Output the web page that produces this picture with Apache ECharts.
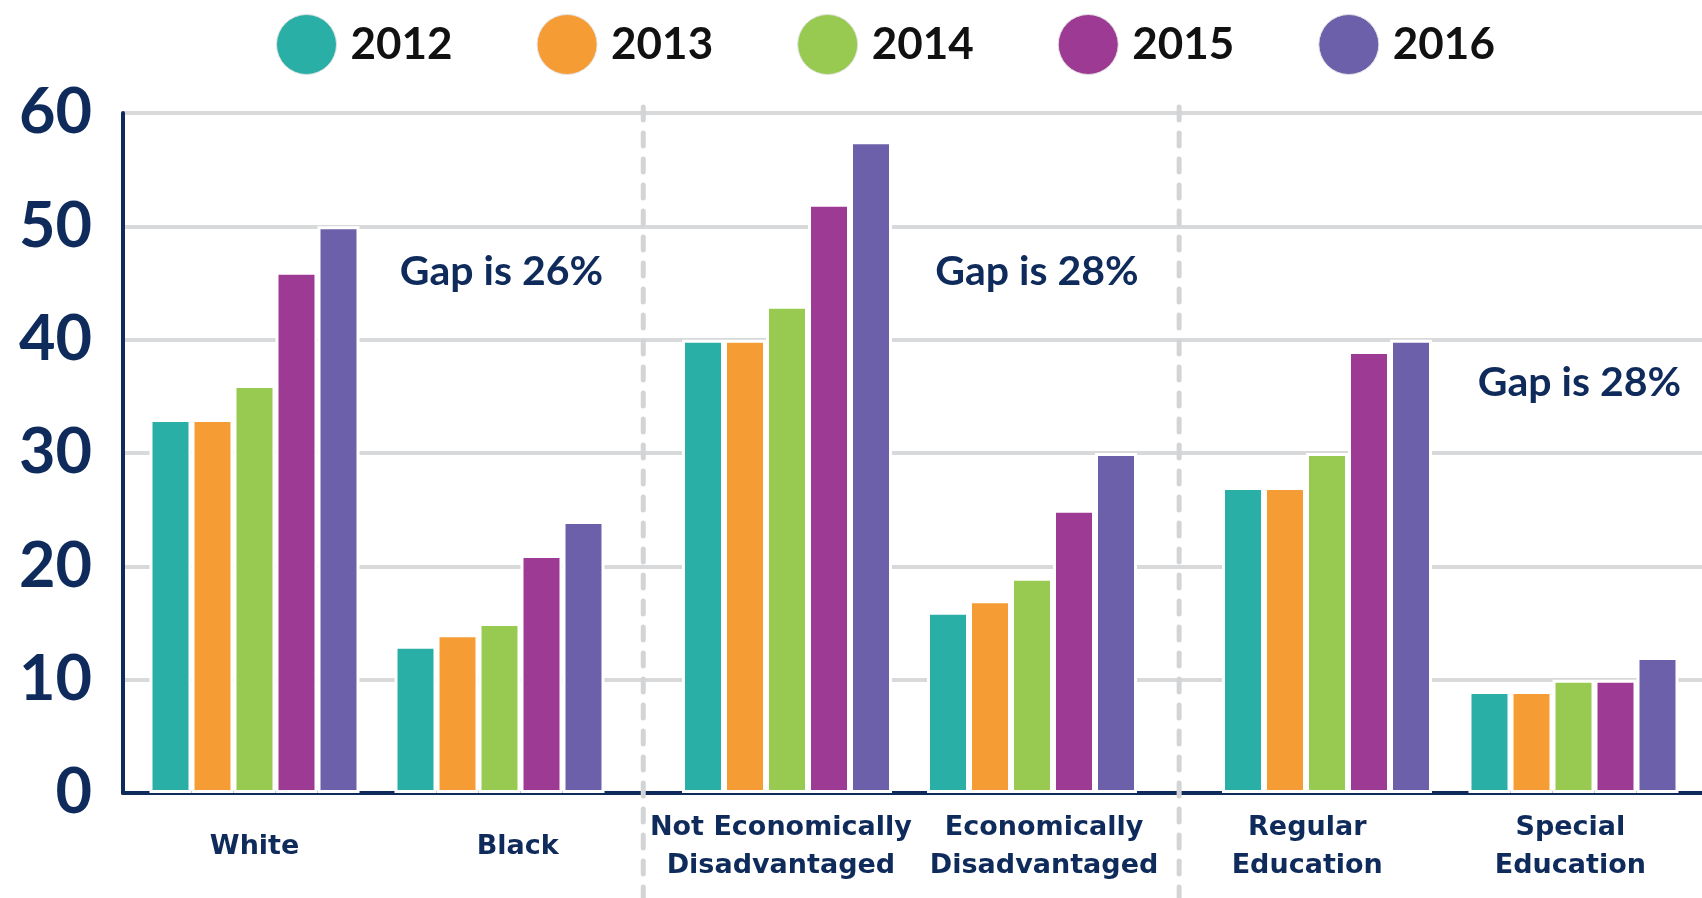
<!DOCTYPE html>
<html>
<head>
<meta charset="utf-8">
<script src="https://cdn.jsdelivr.net/npm/echarts@6/dist/echarts.min.js"></script>
<style>
html,body{margin:0;padding:0;background:#fff;}
#chart{width:1702px;height:898px;}
</style>
</head>
<body>
<div id="chart"></div>
<script>
// ---- data ----
const categories = ['White', 'Black', 'Not Economically\nDisadvantaged', 'Economically\nDisadvantaged', 'Regular\nEducation', 'Special\nEducation'];
const years = ['2012', '2013', '2014', '2015', '2016'];
const v2012 = [33, 13, 40, 16, 27, 9];
const v2013 = [33, 14, 40, 17, 27, 9];
const v2014 = [36, 15, 43, 19, 30, 10];
const v2015 = [46, 21, 52, 25, 39, 10];
const v2016 = [50, 24, 57.5, 30, 40, 12];
const yTicks = [0, 10, 20, 30, 40, 50, 60];
const gapTexts = ['Gap is 26%', 'Gap is 28%', 'Gap is 28%'];
const gapCategory = ['Black', 'Economically\nDisadvantaged', 'Special\nEducation'];
const gapValue = [46, 46, 36.2];

// ---- styling / layout ----
const values = [v2012, v2013, v2014, v2015, v2016];
const colors = ['#2aafa6', '#f69c34', '#98c951', '#9c3a94', '#6c60aa'];
const NAVY = '#0f2b5b';
const TOP = 113, BOTTOM = 105;
const groupBoxes = [
  {left: 132, width: 490},
  {left: 664.5, width: 490},
  {left: 1203.75, width: 493}
];
const gapOffsets = [[2, 0], [5, 0], [6, 0]];

const chart = echarts.init(document.getElementById('chart'));

const grids = [{left: 123, right: 0, top: TOP, bottom: BOTTOM}];
groupBoxes.forEach(b => grids.push({left: b.left, width: b.width, top: TOP, bottom: BOTTOM}));

// background axis carries the evenly spaced category labels
const xAxes = [{
  gridIndex: 0, type: 'category', data: categories,
  axisLine: {show: true, lineStyle: {color: NAVY, width: 4}},
  axisTick: {show: false}, splitLine: {show: false},
  axisLabel: {
    interval: 0, color: NAVY, fontFamily: 'DejaVu Sans', fontWeight: 'bold', fontSize: 27,
    lineHeight: 38, verticalAlign: 'middle', margin: 54
  }
}];
const yAxes = [{
  gridIndex: 0, type: 'value', min: yTicks[0], max: yTicks[yTicks.length - 1], interval: yTicks[1] - yTicks[0],
  axisLine: {show: true, lineStyle: {color: NAVY, width: 4}},
  axisTick: {show: false},
  axisLabel: {color: NAVY, fontFamily: 'Lato', fontWeight: 'bold', fontSize: 63, margin: 31},
  splitLine: {show: true, lineStyle: {color: '#d8d9db', width: 4}}
}];

const series = [];
for (let g = 0; g < 3; g++) {
  const cats = categories.slice(g * 2, g * 2 + 2);
  xAxes.push({
    gridIndex: g + 1, type: 'category', data: cats,
    axisLine: {show: false}, axisTick: {show: false}, splitLine: {show: false},
    axisLabel: {show: false}
  });
  yAxes.push({gridIndex: g + 1, type: 'value', min: 0, max: 60, show: false, splitLine: {show: false}});
  years.forEach((yr, i) => {
    const s = {
      name: yr, type: 'bar', xAxisIndex: g + 1, yAxisIndex: g + 1,
      data: values[i].slice(g * 2, g * 2 + 2),
      barWidth: 42, barGap: '0%',
      itemStyle: {color: colors[i], borderColor: '#ffffff', borderWidth: 3},
      emphasis: {disabled: true},
      z: 3
    };
    if (i === 2) { // middle bar sits on the category centre
      s.markPoint = {
        symbol: 'circle', symbolSize: 1,
        itemStyle: {color: 'transparent'},
        label: {
          show: true, position: 'inside', formatter: gapTexts[g], offset: gapOffsets[g],
          color: NAVY, fontFamily: 'Lato', fontWeight: 'bold', fontSize: 41
        },
        data: [{coord: [gapCategory[g], gapValue[g]]}]
      };
    }
    series.push(s);
  });
}

chart.setOption({
  animation: false,
  backgroundColor: '#ffffff',
  legend: {
    data: years, left: 271, top: 9, icon: 'circle',
    itemWidth: 60, itemHeight: 60, itemGap: 84,
    itemStyle: {borderColor: '#e3e3e3', borderWidth: 1},
    textStyle: {color: '#111111', fontFamily: 'Lato', fontWeight: 'bold', fontSize: 44, padding: [0, 0, 0, 9]},
    selectedMode: false
  },
  grid: grids,
  xAxis: xAxes,
  yAxis: yAxes,
  series: series
});

// dashed separators between the grid groups
const seps = [];
for (let g = 0; g < groupBoxes.length - 1; g++) {
  const x = (groupBoxes[g].left + groupBoxes[g].width + groupBoxes[g + 1].left) / 2;
  seps.push({
    type: 'line', z: 1,
    shape: {x1: x, y1: TOP - 6, x2: x, y2: 898},
    style: {stroke: '#d3d4d6', lineWidth: 5, lineDash: [13, 13], lineCap: 'round'}
  });
}
chart.setOption({graphic: seps});
</script>
</body>
</html>
